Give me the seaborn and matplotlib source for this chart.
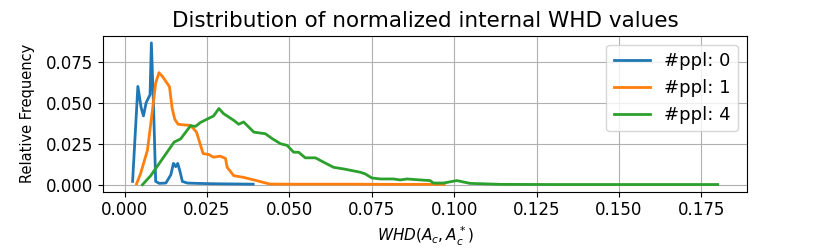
# distribution of normalized internal WHD values per #ppl
import pandas as pd
import matplotlib.pyplot as plt
import seaborn as sns
from matplotlib.ticker import MultipleLocator

blue_x = [0.0024, 0.0040, 0.0050, 0.0057, 0.0065, 0.0077, 0.0081, 0.0088, 0.0094,
          0.0105, 0.0125, 0.0140, 0.0148, 0.0155, 0.0161, 0.0168, 0.0175, 0.0190,
          0.0220, 0.0260, 0.0300, 0.0350, 0.0390]
blue_y = [0.002, 0.060, 0.047, 0.042, 0.050, 0.055, 0.0866, 0.045, 0.002,
          0.0008, 0.001, 0.006, 0.013, 0.011, 0.013, 0.008, 0.002, 0.001,
          0.0008, 0.0006, 0.0005, 0.0004, 0.0003]

orange_x = [0.0036, 0.0048, 0.0069, 0.0084, 0.0094, 0.0104, 0.0115, 0.0129, 0.0136,
            0.0144, 0.0152, 0.0162, 0.0180, 0.0200, 0.0218, 0.0238, 0.0256, 0.0269,
            0.0290, 0.0306, 0.0311, 0.0331, 0.0360, 0.0400, 0.0440, 0.0500, 0.0600,
            0.0700, 0.0800, 0.0900, 0.0970]
orange_y = [0.0005, 0.0066, 0.021, 0.045, 0.062, 0.0684, 0.066, 0.0619, 0.0598,
            0.0467, 0.040, 0.0369, 0.0365, 0.0362, 0.0321, 0.019, 0.0184, 0.0168,
            0.0174, 0.016, 0.0106, 0.0055, 0.0045, 0.0025, 0.0004, 0.0003, 0.0003,
            0.0003, 0.0002, 0.0002, 0.0002]

green_x = [0.0054, 0.0079, 0.0150, 0.0170, 0.0200, 0.0215, 0.0230, 0.0270, 0.0286,
           0.0300, 0.0331, 0.0346, 0.0361, 0.0392, 0.0427, 0.0448, 0.0473, 0.0493,
           0.0513, 0.0528, 0.0548, 0.0579, 0.0604, 0.0634, 0.0665, 0.0715, 0.0730,
           0.0750, 0.0776, 0.0816, 0.0836, 0.0857, 0.0897, 0.0927, 0.0937, 0.0968,
           0.1008, 0.1048, 0.1140, 0.1300, 0.1500, 0.1700, 0.1800]
green_y = [0.0, 0.0055, 0.026, 0.028, 0.036, 0.0356, 0.038, 0.042, 0.0465,
           0.0434, 0.0393, 0.0369, 0.0383, 0.0321, 0.0311, 0.0281, 0.025, 0.024,
           0.0198, 0.0198, 0.0164, 0.0164, 0.0137, 0.0106, 0.0096, 0.0076, 0.0066,
           0.0041, 0.0035, 0.0035, 0.0029, 0.0035, 0.0029, 0.0025, 0.001, 0.001,
           0.0025, 0.0008, 0.0002, 0.0001, 0.0001, 0.0001, 0.0001]

labels = ["#ppl: 0", "#ppl: 1", "#ppl: 4"]


def main() -> None:
    df = pd.concat([
        pd.DataFrame({"x": blue_x, "y": blue_y, "ppl": labels[0]}),
        pd.DataFrame({"x": orange_x, "y": orange_y, "ppl": labels[1]}),
        pd.DataFrame({"x": green_x, "y": green_y, "ppl": labels[2]}),
    ])
    fig, ax = plt.subplots(figsize=(8.3, 2.52), dpi=100)
    sns.lineplot(data=df, x="x", y="y", hue="ppl", palette="tab10",
                 linewidth=2, sort=False, ax=ax)
    ax.set_title("Distribution of normalized internal WHD values", fontsize=15.5)
    ax.set_xlabel(r"$WHD(A_c, A_c^*)$", fontsize=11)
    ax.set_ylabel("Relative Frequency", fontsize=10.5, labelpad=8)
    ax.yaxis.set_major_locator(MultipleLocator(0.025))
    ax.tick_params(labelsize=12)
    ax.grid(True)
    ax.legend(title=None, fontsize=13, loc="upper right")
    fig.subplots_adjust(left=0.1245, right=0.9, top=0.858, bottom=0.239)
    fig.savefig("out.png")


if __name__ == "__main__":
    main()
